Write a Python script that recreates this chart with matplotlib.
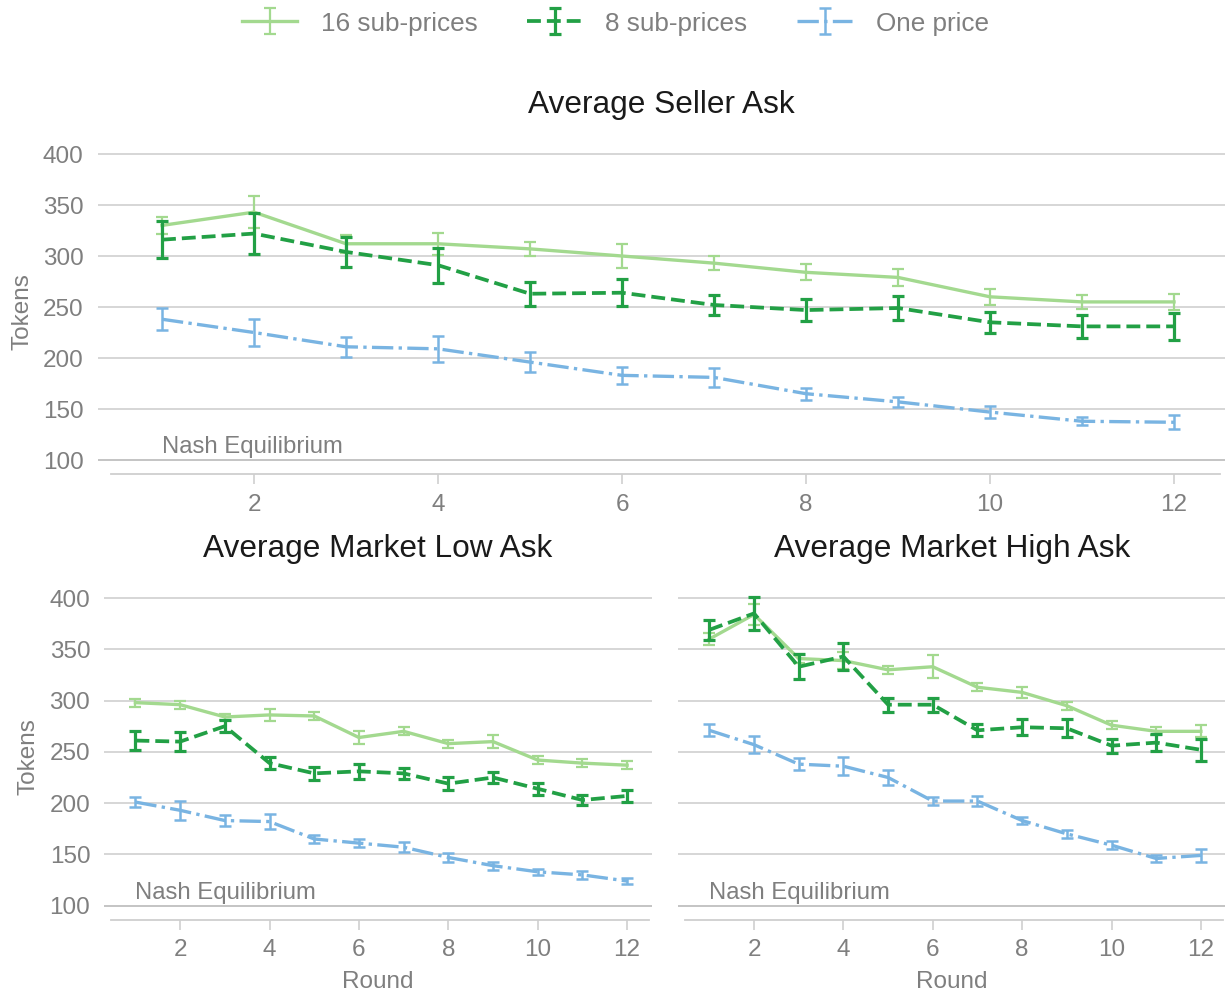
import numpy as np
import matplotlib
matplotlib.use("Agg")
import matplotlib.pyplot as plt

plt.rcParams['font.family'] = ['Liberation Sans', 'DejaVu Sans']

rounds = np.arange(1, 13)
nash = 100

# Average Seller Ask
seller_16 = [330, 343, 312, 312, 307, 300, 293, 284, 279, 260, 255, 255]
seller_16_err = [8, 16, 9, 11, 7, 12, 7, 8, 8, 8, 7, 8]
seller_8 = [316, 322, 304, 291, 263, 264, 252, 247, 249, 235, 231, 231]
seller_8_err = [18, 20, 15, 17, 12, 13, 10, 11, 12, 10, 11, 13]
seller_1 = [238, 225, 211, 209, 196, 183, 181, 165, 157, 147, 138, 137]
seller_1_err = [11, 13, 10, 13, 10, 8, 9, 6, 5, 6, 4, 7]

# Average Market Low Ask
low_16 = [298, 296, 284, 286, 285, 264, 270, 258, 260, 242, 239, 237]
low_16_err = [4, 4, 3, 6, 4, 6, 4, 4, 6, 4, 4, 4]
low_8 = [261, 260, 275, 239, 229, 231, 229, 219, 225, 214, 203, 207]
low_8_err = [9, 9, 6, 6, 6, 7, 5, 6, 5, 6, 5, 6]
low_1 = [201, 193, 183, 182, 165, 161, 157, 147, 139, 133, 130, 124]
low_1_err = [5, 9, 5, 7, 4, 4, 5, 4, 4, 3, 4, 3]

# Average Market High Ask
high_16 = [360, 384, 341, 339, 330, 333, 313, 308, 295, 276, 270, 270]
high_16_err = [6, 10, 4, 8, 4, 11, 4, 5, 4, 4, 4, 6]
high_8 = [369, 385, 333, 343, 296, 296, 271, 274, 273, 256, 259, 252]
high_8_err = [10, 16, 12, 13, 7, 7, 6, 8, 9, 7, 8, 11]
high_1 = [271, 257, 238, 236, 225, 202, 202, 183, 170, 159, 146, 149]
high_1_err = [6, 8, 6, 9, 7, 4, 5, 3, 4, 4, 3, 6]

labels = ['16 sub-prices', '8 sub-prices', 'One price']
colors = ['#a3d98f', '#22a045', '#79b4e2']
styles = ['-', '--', '-.']
line_w = [2.4, 2.7, 2.4]
err_w = [1.6, 2.3, 1.8]

grey = '#7f7f7f'
light = '#cfcfcf'

fig = plt.figure(figsize=(12.31, 9.96), dpi=100)
ax_top = fig.add_axes([0.0793, 0.5238, 0.9155, 0.3267])
ax_low = fig.add_axes([0.0846, 0.0763, 0.4448, 0.3284])
ax_high = fig.add_axes([0.5508, 0.0763, 0.4447, 0.3284])

panels = [
    (ax_top, 'Average Seller Ask',
     [(seller_16, seller_16_err), (seller_8, seller_8_err), (seller_1, seller_1_err)]),
    (ax_low, 'Average Market Low Ask',
     [(low_16, low_16_err), (low_8, low_8_err), (low_1, low_1_err)]),
    (ax_high, 'Average Market High Ask',
     [(high_16, high_16_err), (high_8, high_8_err), (high_1, high_1_err)]),
]

handles = []
for ax, title, series in panels:
    for i, (vals, errs) in enumerate(series):
        h = ax.errorbar(rounds, vals, yerr=errs, color=colors[i], ls=styles[i],
                        lw=line_w[i], elinewidth=err_w[i], capsize=4.5,
                        capthick=err_w[i], label=labels[i], zorder=3 + i)
        if ax is ax_top:
            handles.append(h)
    ax.axhline(nash, color='#c4c4c4', lw=1.3, zorder=2)
    ax.text(1, nash + 2, 'Nash Equilibrium', color=grey, fontsize=17.2,
            ha='left', va='bottom')
    ax.set_xlim(0.3, 12.55)
    ax.set_ylim(86, 405)
    ax.set_yticks(range(100, 401, 50))
    ax.set_xticks(range(2, 13, 2))
    ax.grid(axis='y', color=light, lw=1.2)
    ax.set_axisbelow(True)
    for s in ['top', 'right', 'left']:
        ax.spines[s].set_visible(False)
    ax.spines['bottom'].set_color(light)
    ax.spines['bottom'].set_linewidth(1.3)
    ax.spines['bottom'].set_bounds(0.45, 12.5)
    ax.tick_params(axis='x', colors=grey, labelsize=17.5, length=7, width=1.2,
                   color=light, pad=7)
    ax.tick_params(axis='y', colors=grey, labelsize=17.5, length=0, pad=10)
    ax.set_title(title, fontsize=22.8, color='#1a1a1a', pad=26)

ax_top.set_ylabel('Tokens', color=grey, fontsize=17.5, labelpad=7)
ax_low.set_ylabel('Tokens', color=grey, fontsize=17.5, labelpad=7)
ax_high.set_yticklabels([])
ax_low.set_xlabel('Round', color=grey, fontsize=17.5, labelpad=7)
ax_high.set_xlabel('Round', color=grey, fontsize=17.5, labelpad=7)

leg = fig.legend(handles=handles, labels=labels, loc='upper center',
                 bbox_to_anchor=(0.5, 1.012), ncol=3, frameon=False,
                 fontsize=18.8, handlelength=2.1, handletextpad=0.9,
                 columnspacing=1.9)
for t in leg.get_texts():
    t.set_color(grey)

fig.savefig('out.png', dpi=100, facecolor='white')
